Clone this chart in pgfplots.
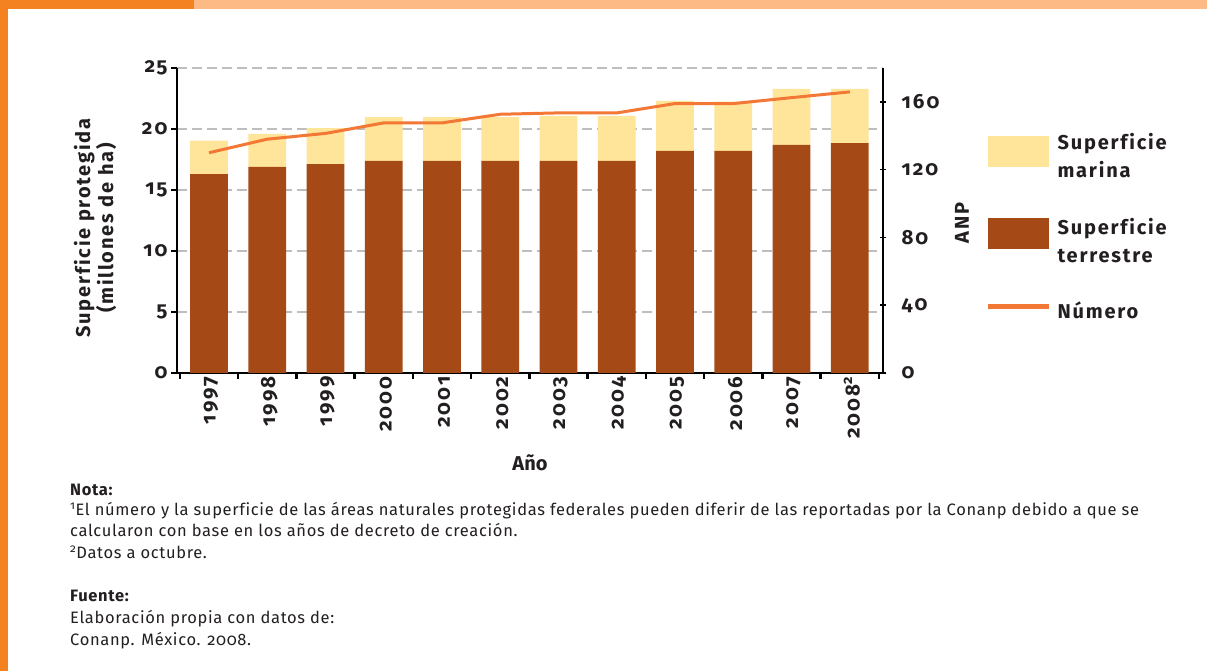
\documentclass[border=0pt]{standalone}
\usepackage{fontspec}
\usepackage{pgfplots}
\pgfplotsset{compat=1.18}
\setmainfont{Fira Sans}[Numbers=OldStyle]
\newfontfamily\cf{Fira Sans}[Numbers=OldStyle,LetterSpace=9,Ligatures=NoCommon]
\newfontfamily\tf{Fira Sans}[Numbers=OldStyle,LetterSpace=10,Ligatures=NoCommon]
\newfontfamily\nf{Fira Sans}[Numbers=OldStyle,LetterSpace=4,Ligatures=NoCommon]
\newfontfamily\af{Fira Sans}
\definecolor{terr}{HTML}{A54A17}
\definecolor{marina}{HTML}{FEE599}
\definecolor{lineo}{HTML}{F37735}
\definecolor{oA}{HTML}{F58221}
\definecolor{oB}{HTML}{FDBA85}
\definecolor{gridc}{HTML}{BEBEBE}
\definecolor{txt}{HTML}{231F20}
\begin{document}
\begin{tikzpicture}
\path[use as bounding box, fill=white] (0bp,0bp) rectangle (1207bp,671bp);
\fill[oA] (0bp,0bp) rectangle (8bp,671bp);
\fill[oA] (0bp,662bp) rectangle (194bp,671bp);
\fill[oB] (194bp,662bp) rectangle (1207bp,671bp);
\pgfplotsset{common/.style={scale only axis, width=706bp, height=305bp,
  at={(177bp,298bp)}, anchor=south west, xmin=-0.55, xmax=11.57, ymin=0,
  /pgf/number format/assume math mode=true,
  tick label style={font=\tf\bfseries\fontsize{20.5bp}{22bp}\selectfont, text=txt}}}
\begin{axis}[common, ymax=25,
  axis x line*=bottom, axis y line*=left,
  x axis line style={line width=2.5bp, black},
  y axis line style={line width=1.5bp, black},
  tick align=outside, major tick length=6bp,
  ytick={0,5,...,25}, ytick style={line width=1.5bp, black},
  ymajorgrids, grid style={dash pattern=on 10bp off 5bp, line width=1.5bp, gridc},
  xtick={-0.5,0.5,...,11.5}, xticklabels={}, xtick style={line width=2.5bp, black},
  extra x ticks={0,1,2,3,4,5,6,7,8,9,10,11},
  extra x tick labels={1997,1998,1999,2000,2001,2002,2003,2004,2005,2006,2007,{2008\textsuperscript{2}}},
  extra x tick style={major tick length=0pt, grid=none,
     xticklabel style={rotate=90, anchor=east, yshift=-2bp}},
  ybar stacked, bar width=37.7bp]
\addplot[fill=terr, draw=none] coordinates {(0,16.31) (1,16.89) (2,17.13) (3,17.38) (4,17.38) (5,17.38) (6,17.38) (7,17.38) (8,18.2) (9,18.2) (10,18.69) (11,18.85)};
\addplot[fill=marina, draw=none] coordinates {(0,2.73) (1,2.70) (2,2.95) (3,3.60) (4,3.60) (5,3.60) (6,3.69) (7,3.69) (8,4.10) (9,4.04) (10,4.59) (11,4.43)};
\end{axis}
\begin{axis}[common, ymax=180,
  axis y line*=right, axis x line=none,
  y axis line style={line width=1.5bp, black},
  ytick={0,40,...,160}, ytick style={line width=1.5bp, black},
  tick align=center, major tick length=6bp,
  yticklabel style={anchor=west, xshift=12bp}]
\addplot[lineo, line width=3bp] coordinates {(0,130) (1,138) (2,141.4) (3,147.6) (4,147.6) (5,152.7) (6,153.5) (7,153.5) (8,159) (9,159) (10,162.5) (11,165.9)};
\end{axis}
% axis titles
\node[rotate=90, align=center, text=txt, font=\cf\bfseries\fontsize{20bp}{23bp}\selectfont] at (95bp,443bp) {Superficie protegida\\(millones de ha)};
\node[rotate=90, text=txt, font=\cf\bfseries\fontsize{20bp}{23bp}\selectfont] at (962bp,448bp) {ANP};
\node[text=txt, font=\af\bfseries\fontsize{20bp}{23bp}\selectfont] at (530bp,208bp) {Año};
% legend
\fill[marina] (988bp,504bp) rectangle (1049bp,535bp);
\fill[terr] (988bp,422bp) rectangle (1049bp,453bp);
\draw[lineo, line width=5bp] (988bp,364bp) -- (1049bp,364bp);
\begin{scope}[every node/.style={anchor=west, align=left, text=txt, font=\cf\bfseries\fontsize{20bp}{28bp}\selectfont}]
\node at (1054bp,515bp) {Superficie\\marina};
\node at (1054bp,430bp) {Superficie\\terrestre};
\node at (1054bp,361bp) {Número};
\end{scope}
% notes
\begin{scope}[every node/.style={anchor=base west, inner sep=0pt, text=txt, font=\nf\fontsize{16.5bp}{20bp}\selectfont}]
\node at (70bp,175bp) {\bfseries Nota:};
\node at (70bp,155bp) {\textsuperscript{1}El número y la superficie de las áreas naturales protegidas federales pueden diferir de las reportadas por la Conanp debido a que se};
\node at (70bp,134bp) {calcularon con base en los años de decreto de creación.};
\node at (70bp,112bp) {\textsuperscript{2}Datos a octubre.};
\node at (70bp,69bp) {\bfseries Fuente:};
\node at (70bp,47bp) {Elaboración propia con datos de:};
\node at (70bp,26bp) {Conanp. México. 2008.};
\end{scope}
\end{tikzpicture}
\end{document}
